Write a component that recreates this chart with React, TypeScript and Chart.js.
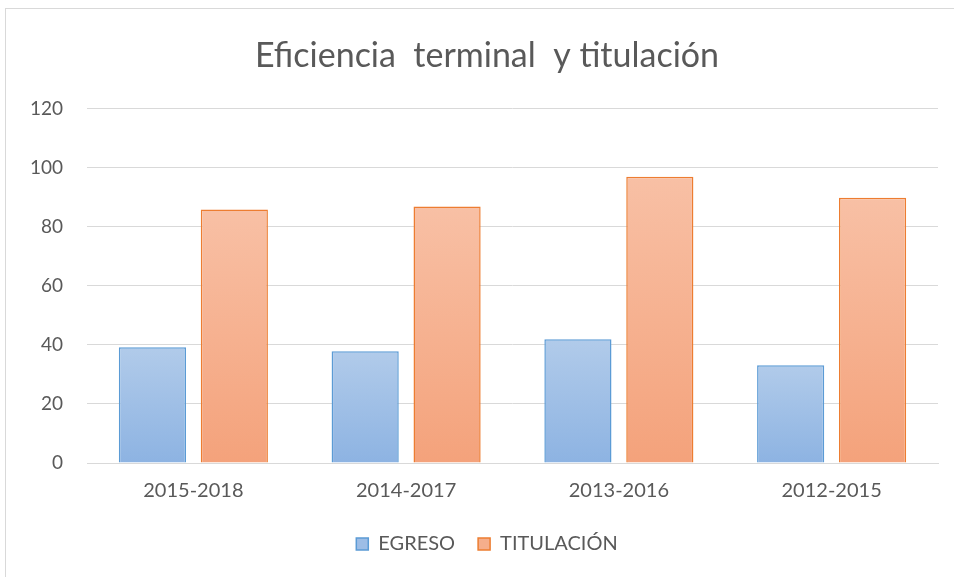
import React, { useEffect, useRef } from "react";
import { Chart, registerables } from "chart.js";

Chart.register(...registerables);

const categories = ["2015-2018", "2014-2017", "2013-2016", "2012-2015"];
const egreso = [39.2, 37.9, 41.9, 33.1];
const titulacion = [85.9, 86.9, 97.0, 89.9];
const titleText = "Eficiencia  terminal  y titulación";
const seriesNames = ["EGRESO", "TITULACIÓN"];

function gradientFor(top: string, bottom: string) {
  return (ctx: any) => {
    const chart = ctx.chart;
    const area = chart.chartArea;
    if (!area || ctx.type !== "data") return top;
    const y = chart.scales.y;
    const v = ctx.raw as number;
    const yTop = y.getPixelForValue(v);
    const yBot = y.getPixelForValue(0);
    const g = chart.ctx.createLinearGradient(0, yTop, 0, yBot);
    g.addColorStop(0, top);
    g.addColorStop(1, bottom);
    return g;
  };
}

export default function App() {
  const ref = useRef<HTMLCanvasElement | null>(null);
  useEffect(() => {
    if (!ref.current) return;
    const font = "Lato, 'Open Sans', sans-serif";
    const chart = new Chart(ref.current, {
      type: "bar",
      data: {
        labels: categories,
        datasets: [
          {
            label: seriesNames[0],
            data: egreso,
            backgroundColor: gradientFor("#b1cbea", "#8db3e2"),
            borderColor: "#5b9bd5",
            borderWidth: 1.5,
            categoryPercentage: 0.77,
            barPercentage: 0.82,
          },
          {
            label: seriesNames[1],
            data: titulacion,
            backgroundColor: gradientFor("#f8c0a5", "#f4a27b"),
            borderColor: "#ed7d31",
            borderWidth: 1.5,
            categoryPercentage: 0.77,
            barPercentage: 0.82,
          },
        ],
      },
      options: {
        animation: false,
        responsive: false,
        maintainAspectRatio: false,
        layout: { padding: { left: 30, right: 16, top: 27, bottom: 13 } },
        plugins: {
          title: {
            display: true,
            text: titleText,
            color: "#595959",
            font: { family: font, size: 34, weight: "normal" },
            padding: { top: 0, bottom: 32 },
          },
          legend: {
            position: "bottom",
            labels: {
              color: "#595959",
              font: { family: font, size: 20 },
              boxWidth: 12,
              boxHeight: 12,
              padding: 23,
              useBorderRadius: false,
              generateLabels: (c: any) =>
                c.data.datasets.map((d: any, i: number) => ({
                  text: d.label,
                  fillStyle: i === 0 ? "#9dbde6" : "#f5ae8c",
                  strokeStyle: d.borderColor,
                  lineWidth: 1.5,
                  datasetIndex: i,
                  fontColor: "#595959",
                })),
            },
          },
          tooltip: { enabled: false },
        },
        scales: {
          x: {
            grid: { display: false },
            border: { display: true, color: "#d9d9d9", width: 1 },
            ticks: { color: "#595959", font: { family: font, size: 20 }, padding: 8 },
          },
          y: {
            min: 0,
            max: 120,
            afterFit: (scale: any) => {
              scale.width = 51;
            },
            ticks: {
              stepSize: 20,
              color: "#595959",
              font: { family: font, size: 19 },
              mirror: true,
              crossAlign: "far",
              padding: -57,
            },
            grid: { color: "#d9d9d9", lineWidth: 1, drawTicks: false },
            border: { display: false },
          },
        },
      },
    });
    return () => chart.destroy();
  }, []);
  return (
    <div
      style={{
        position: "absolute",
        left: 5,
        top: 8,
        width: 949,
        height: 569,
        borderTop: "1px solid #d9d9d9",
        borderLeft: "1px solid #d9d9d9",
        background: "#fff",
        boxSizing: "border-box",
      }}
    >
      <canvas ref={ref} width={948} height={568} style={{ display: "block" }} />
    </div>
  );
}
